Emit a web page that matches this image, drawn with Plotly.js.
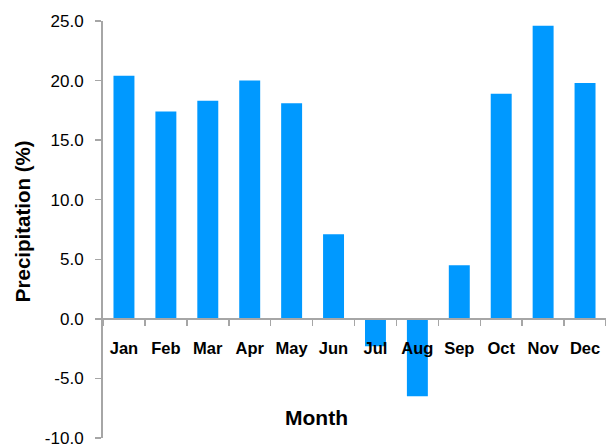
<!DOCTYPE html>
<html><head><meta charset="utf-8">
<script src="https://cdn.plot.ly/plotly-3.0.1.min.js"></script>
<style>html,body{margin:0;padding:0;background:#fff}</style>
</head><body>
<div id="chart" style="width:606px;height:447px"></div>
<script>
const months = ["Jan","Feb","Mar","Apr","May","Jun","Jul","Aug","Sep","Oct","Nov","Dec"];
const precipitation = [20.4, 17.4, 18.3, 20.0, 18.1, 7.1, -2.3, -6.5, 4.5, 18.9, 24.6, 19.8];
const yTickValues = [-10, -5, 0, 5, 10, 15, 20, 25];
const yTickLabels = ["-10.0", "-5.0", "0.0", "5.0", "10.0", "15.0", "20.0", "25.0"];

const trace = {
  type: "bar",
  x: months,
  y: precipitation,
  width: 0.5,
  marker: {color: "#0099ff", line: {width: 0}},
  hoverinfo: "x+y"
};

const layout = {
  width: 606, height: 447,
  margin: {l: 103, r: 0, t: 21, b: 9},
  paper_bgcolor: "#fff", plot_bgcolor: "#fff",
  showlegend: false,
  font: {family: "Liberation Sans, Arial, sans-serif", color: "#000"},
  xaxis: {
    type: "category",
    range: [-0.5, 11.5],
    anchor: "free",
    position: 10/35,
    showline: true, linecolor: "#a6a6a6", linewidth: 2,
    ticks: "outside", tickson: "boundaries", ticklen: 6, tickcolor: "#a6a6a6", tickwidth: 1.5,
    tickangle: 0,
    tickfont: {size: 16.5, family: "Liberation Sans, Arial, sans-serif", weight: "bold", color: "#000"},
    ticklabelstandoff: 14,
    ticklabeloverflow: "allow",
    showgrid: false, zeroline: false
  },
  yaxis: {
    range: [-10, 25],
    tickvals: yTickValues,
    ticktext: yTickLabels,
    showline: true, linecolor: "#a6a6a6", linewidth: 2,
    ticks: "outside", ticklen: 6, tickcolor: "#a6a6a6", tickwidth: 1.5,
    tickfont: {size: 17, color: "#000"},
    ticklabelstandoff: 8,
    ticklabeloverflow: "allow",
    showgrid: false, zeroline: false
  },
  annotations: [{
    text: "Month", xref: "paper", yref: "paper", x: 0.425, y: 0.048,
    xanchor: "center", yanchor: "middle", showarrow: false,
    font: {size: 21, weight: "bold", color: "#000"}
  }, {
    text: "Precipitation (%)", xref: "paper", yref: "paper", x: -0.161, y: 0.52,
    xanchor: "center", yanchor: "middle", showarrow: false, textangle: -90,
    font: {size: 20.5, weight: "bold", color: "#000"}
  }]
};

Plotly.newPlot("chart", [trace], layout, {displayModeBar: false, staticPlot: true});
</script>
</body></html>
